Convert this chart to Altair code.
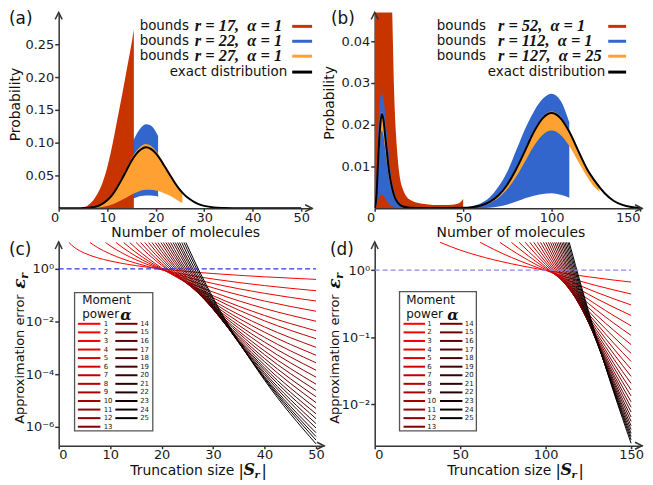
import altair as alt
import pandas as pd

# ---------------- panel (a) data ----------------
A_BLACK_X = [0, 2, 4, 5, 6, 7, 8, 9, 10, 11, 12, 13, 14, 15, 16, 17, 18, 19, 20, 21, 22, 23, 24,
             25, 26, 27, 28, 29, 30, 32, 34, 36, 38, 40, 45, 50]
A_BLACK_P = [0, 0, 0, 0.0002, 0.0005, 0.0014, 0.0031, 0.0065, 0.012, 0.020, 0.031, 0.044, 0.058,
             0.072, 0.083, 0.090, 0.093, 0.0905, 0.084, 0.074, 0.062, 0.050, 0.038, 0.028, 0.020,
             0.014, 0.0092, 0.0058, 0.0036, 0.0012, 0.0004, 0.0001, 0.00002, 0, 0, 0]
A_RED_X = [4, 5, 6, 7, 8, 9, 10, 11, 12, 13, 14, 15, 15.5]
A_RED_HI = [0, 0.001, 0.004, 0.011, 0.022, 0.038, 0.062, 0.094, 0.132, 0.170, 0.210, 0.250, 0.272]
A_BLUE_X = [5, 6, 7, 8, 9, 10, 11, 12, 13, 14, 15, 16, 17, 18, 19, 20, 20.5]
A_BLUE_HI = [0.0003, 0.001, 0.0025, 0.0055, 0.011, 0.019, 0.031, 0.045, 0.061, 0.078, 0.096,
             0.112, 0.123, 0.128, 0.126, 0.117, 0.110]
A_BLUE_LO = [0, 0, 0.0002, 0.0006, 0.0013, 0.0025, 0.004, 0.006, 0.0085, 0.011, 0.014, 0.0165,
             0.0185, 0.0195, 0.0195, 0.0185, 0.0175]
A_ORANGE_X = [5, 6, 7, 8, 9, 10, 11, 12, 13, 14, 15, 16, 17, 18, 19, 20, 21, 22, 23, 24, 25, 25.5]
A_ORANGE_HI = [0.0002, 0.0006, 0.0015, 0.0034, 0.007, 0.0128, 0.0213, 0.0327, 0.0463, 0.0611,
               0.0753, 0.0871, 0.0948, 0.0978, 0.0951, 0.088, 0.0775, 0.065, 0.0523, 0.0402,
               0.0297, 0.025]
A_ORANGE_LO = [0, 0.0001, 0.0003, 0.0008, 0.0018, 0.0034, 0.0057, 0.0088, 0.0125, 0.0165, 0.0205,
               0.0238, 0.027, 0.028, 0.028, 0.027, 0.025, 0.022, 0.019, 0.0145, 0.0098, 0.0078]

# ---------------- panel (b) data ----------------
B_BLACK_X = [0, 1, 2, 3, 4, 5, 6, 7, 8, 9, 10, 11, 12, 14, 16, 20, 25, 30, 40, 50, 55, 60, 65,
             70, 75, 80, 85, 90, 95, 100, 105, 110, 115, 120, 125, 130, 135, 140, 145, 150]
B_BLACK_P = [0, 0.003, 0.012, 0.019, 0.0226, 0.021, 0.017, 0.013, 0.0092, 0.0065, 0.0045, 0.003,
             0.002, 0.0009, 0.0004, 0.0001, 0.00005, 0.00003, 0.00005, 0.0001, 0.00025, 0.00065,
             0.0015, 0.0031, 0.0057, 0.0094, 0.0138, 0.0183, 0.0216, 0.0228, 0.0216, 0.0183,
             0.0138, 0.0094, 0.0062, 0.0036, 0.0018, 0.0008, 0.0003, 0.0001]
B_RED_X = [0, 5, 9, 9.9, 10.9, 12, 13, 14.5, 16, 18, 21, 24, 28, 33, 38, 42, 45, 47.5, 49, 50]
B_RED_HI = [0.09, 0.08, 0.06, 0.047, 0.029, 0.018, 0.012, 0.0067, 0.0045, 0.0028, 0.0018, 0.0013,
            0.001, 0.0008, 0.0008, 0.0008, 0.0009, 0.0012, 0.0017, 0.0022]
B_BLUE_X = [0, 1, 2, 3, 4, 5, 6, 7, 8, 9, 10, 12, 14, 17, 20, 25, 30, 40, 50, 55, 60, 65, 70, 75,
            80, 85, 90, 95, 100, 105, 110]
B_BLUE_HI = [0, 0.006, 0.018, 0.026, 0.0274, 0.026, 0.0225, 0.0175, 0.013, 0.009, 0.006, 0.0028,
             0.0013, 0.0005, 0.0002, 0.0001, 0.0001, 0.0001, 0.0002, 0.0005, 0.0012, 0.0026,
             0.0052, 0.0088, 0.0139, 0.019, 0.0232, 0.0262, 0.0274, 0.0258, 0.0206]
B_BLUE_LO = [0, 0.0008, 0.0022, 0.003, 0.0033, 0.003, 0.0024, 0.0017, 0.0011, 0.0007, 0.0004,
             0.0001, 0, 0, 0, 0, 0, 0, 0, 0, 0, 0.0001, 0.0004, 0.0009, 0.0016, 0.0024, 0.003,
             0.0034, 0.0036, 0.0032, 0.0025]
B_ORANGE_X = [0, 1, 2, 3, 4, 5, 6, 7, 8, 9, 10, 12, 14, 16, 20, 30, 40, 50, 60, 65, 70, 75, 80,
              85, 90, 95, 100, 105, 110, 115, 120, 125, 127]
B_ORANGE_HI = [0, 0.0032, 0.0125, 0.0195, 0.023, 0.0215, 0.0175, 0.0134, 0.0095, 0.0067, 0.0047,
               0.0021, 0.001, 0.0004, 0.0001, 0.00004, 0.00005, 0.0001, 0.0007, 0.0016, 0.0033,
               0.0059, 0.0097, 0.0142, 0.0187, 0.022, 0.0232, 0.022, 0.0187, 0.0142, 0.0098,
               0.0065, 0.0055]
B_ORANGE_LO = [0, 0.0022, 0.0095, 0.0155, 0.0186, 0.0172, 0.0138, 0.0104, 0.0074, 0.0052, 0.0036,
               0.0016, 0.0007, 0.0003, 0.0001, 0.00002, 0.00003, 0.0001, 0.0005, 0.0012, 0.0025,
               0.0046, 0.0076, 0.0112, 0.0149, 0.0176, 0.0186, 0.0176, 0.0149, 0.0112, 0.0076,
               0.0047, 0.0040]

# ---------------- panel (c) data: log10 error per moment power ----------------
C_TOP = 1.0
C_START = [1.99, 6.08, 9.09, 11.13, 12.62, 13.81, 15.04, 15.91, 16.73, 17.46, 18.12, 18.74, 19.28,
           19.85, 20.34, 20.84, 21.29, 21.75, 22.23, 22.65, 23.09, 23.47, 23.91, 24.34, 24.72]
C_GRID = [3, 5, 7.5, 10, 12.5, 15, 17.5, 20, 22.5, 25, 27.5, 30, 40, 50]
C_LOG = [
    [0.822, 0.600, 0.424, 0.299, 0.202, 0.123, 0.056, -0.002, -0.053, -0.099, -0.140, -0.178, -0.303, -0.400],
    [0.818, 0.568, 0.374, 0.216, 0.082, -0.034, -0.136, -0.228, -0.311, -0.386, -0.636, -0.830],
    [0.876, 0.585, 0.348, 0.147, -0.027, -0.181, -0.318, -0.442, -0.555, -0.930, -1.221],
    [0.798, 0.482, 0.214, -0.018, -0.223, -0.406, -0.571, -0.722, -1.222, -1.610],
    [0.625, 0.290, 0.000, -0.256, -0.485, -0.692, -0.881, -1.506, -1.990],
    [0.785, 0.384, 0.036, -0.271, -0.545, -0.794, -1.021, -1.771, -2.352],
    [0.539, 0.133, -0.225, -0.545, -0.835, -1.100, -1.975, -2.653],
    [0.668, 0.204, -0.206, -0.571, -0.902, -1.205, -2.205, -2.980],
    [0.824, 0.302, -0.159, -0.571, -0.943, -1.283, -2.408, -3.281],
    [0.410, -0.102, -0.559, -0.973, -1.351, -2.601, -3.570],
    [0.528, -0.035, -0.538, -0.993, -1.409, -2.784, -3.850],
    [0.660, 0.046, -0.503, -1.000, -1.453, -2.953, -4.116],
    [0.793, 0.127, -0.467, -1.005, -1.496, -3.121, -4.381],
    [0.235, -0.405, -0.984, -1.513, -3.263, -4.620],
    [0.342, -0.344, -0.965, -1.532, -3.407, -4.860],
    [0.469, -0.262, -0.925, -1.530, -3.530, -5.080],
    [0.592, -0.185, -0.889, -1.532, -3.657, -5.304],
    [0.734, -0.088, -0.833, -1.514, -3.764, -5.508],
    [0.030, -0.756, -1.474, -3.849, -5.691],
    [0.142, -0.686, -1.442, -3.942, -5.880],
    [0.275, -0.594, -1.388, -4.013, -6.048],
    [0.398, -0.513, -1.344, -4.094, -6.226],
    [0.554, -0.398, -1.267, -4.142, -6.371],
    [0.722, -0.271, -1.178, -4.178, -6.504],
    [-0.158, -1.103, -4.228, -6.650],
]

# ---------------- panel (d) data ----------------
D_TOP = 0.415
D_START = [38.3, 61.7, 73.2, 80.0, 84.5, 88.1, 90.8, 93.1, 95.2, 97.0, 98.7, 100.2, 101.6, 102.9,
           104.1, 105.3, 106.4, 107.5, 108.5, 109.5, 110.4, 111.3, 112.2, 113.1, 113.8]
D_GRID = [50, 60, 70, 80, 90, 95, 100, 105, 110, 115, 120, 125, 130, 140, 150]
D_LOG = [
    [0.299, 0.220, 0.153, 0.095, 0.044, 0.020, -0.002, -0.023, -0.043, -0.063, -0.081, -0.099, -0.116, -0.148, -0.178],
    [0.306, 0.190, 0.088, 0.041, -0.004, -0.046, -0.087, -0.125, -0.162, -0.198, -0.232, -0.296, -0.356],
    [0.300, 0.146, 0.076, 0.009, -0.055, -0.115, -0.173, -0.229, -0.282, -0.333, -0.429, -0.519],
    [0.211, 0.117, 0.028, -0.057, -0.138, -0.215, -0.289, -0.360, -0.428, -0.556, -0.676],
    [0.279, 0.162, 0.050, -0.056, -0.157, -0.254, -0.346, -0.435, -0.520, -0.681, -0.831],
    [0.359, 0.218, 0.084, -0.043, -0.164, -0.280, -0.391, -0.497, -0.599, -0.793, -0.973],
    [0.278, 0.122, -0.027, -0.168, -0.303, -0.433, -0.557, -0.676, -0.901, -1.111],
    [0.346, 0.168, -0.002, -0.163, -0.318, -0.466, -0.607, -0.743, -1.001, -1.241],
    [0.222, 0.032, -0.150, -0.324, -0.491, -0.650, -0.803, -1.093, -1.363],
    [0.284, 0.072, -0.130, -0.323, -0.508, -0.685, -0.855, -1.177, -1.477],
    [0.352, 0.119, -0.103, -0.316, -0.519, -0.714, -0.901, -1.255, -1.585],
    [0.169, -0.073, -0.305, -0.527, -0.739, -0.943, -1.330, -1.690],
    [0.226, -0.036, -0.287, -0.528, -0.758, -0.979, -1.398, -1.788],
    [0.291, 0.008, -0.262, -0.521, -0.769, -1.007, -1.457, -1.877],
    [0.056, -0.234, -0.512, -0.777, -1.032, -1.515, -1.965],
    [0.110, -0.198, -0.494, -0.778, -1.050, -1.565, -2.045],
    [0.172, -0.156, -0.471, -0.772, -1.061, -1.608, -2.118],
    [0.232, -0.115, -0.448, -0.767, -1.073, -1.652, -2.192],
    [0.302, -0.065, -0.416, -0.752, -1.075, -1.687, -2.257],
    [-0.014, -0.384, -0.738, -1.078, -1.722, -2.322],
    [0.044, -0.344, -0.716, -1.073, -1.749, -2.379],
    [0.103, -0.304, -0.693, -1.067, -1.775, -2.435],
    [0.170, -0.255, -0.662, -1.053, -1.794, -2.484],
    [0.238, -0.206, -0.631, -1.039, -1.812, -2.532],
    [0.303, -0.160, -0.603, -1.028, -1.833, -2.583],
]

A_XTICKS = [0, 10, 20, 30, 40, 50]
A_YTICKS = [0.05, 0.10, 0.15, 0.20, 0.25]
B_XTICKS = [0, 50, 100, 150]
B_YTICKS = [0.01, 0.02, 0.03, 0.04]
C_XTICKS = [0, 10, 20, 30, 40, 50]
C_YTICKS = [1, 1e-2, 1e-4, 1e-6]
D_XTICKS = [0, 50, 100, 150]
D_YTICKS = [1, 1e-1, 1e-2]
ALPHAS = list(range(1, 26))

A_LEGEND = ["r = 17,\u00a0 α = 1", "r = 22,\u00a0 α = 1", "r = 27,\u00a0 α = 1"]
B_LEGEND = ["r = 52,\u00a0 α = 1", "r = 112,\u00a0 α = 1", "r = 127,\u00a0 α = 25"]

# ---------------- styles ----------------
FONT = "DejaVu Sans"
MATH = "DejaVu Serif"
MATH2 = "Liberation Serif"
RED = "#c83400"
BLUE = "#3366cc"
ORANGE = "#ffa033"
AXC = "#333333"
ALPHA_COLORS = ["rgb(%d,0,0)" % round(255 * (1 - (a - 1) / 24)) for a in ALPHAS]

dummy = pd.DataFrame({"k": [0]})


def txt(text, x, y, size=13, align="left", baseline="middle", font=FONT, style=None,
        weight=None, angle=None, color="#111111"):
    kw = dict(text=text, fontSize=size, align=align, baseline=baseline, font=font, color=color)
    if style:
        kw["fontStyle"] = style
    if weight:
        kw["fontWeight"] = weight
    if angle is not None:
        kw["angle"] = angle
    return alt.Chart(dummy).mark_text(**kw).encode(x=alt.value(x), y=alt.value(y))


def hline(x1, x2, y, color, width=2.0, dash=None):
    kw = dict(color=color, strokeWidth=width)
    if dash:
        kw["strokeDash"] = dash
    return alt.Chart(dummy).mark_rule(**kw).encode(x=alt.value(x1), x2=alt.value(x2), y=alt.value(y))


def arrow(x, y, shape):
    return alt.Chart(dummy).mark_point(shape=shape, size=49, filled=False, stroke=AXC,
                                       strokeWidth=1.5, opacity=1).encode(
        x=alt.value(x), y=alt.value(y))


UP = "M -1 2 L 0 0 L 1 2"
RIGHT = "M -2 -1 L 0 0 L -2 1"


def make_x(domain, ticks, right_expr=None):
    ax = dict(values=ticks, title=None, format="d", tickSize=3, labelPadding=0)
    if right_expr:
        ax["labelAlign"] = {"condition": {"test": right_expr, "value": "right"}, "value": "center"}
    return alt.X("x:Q", scale=alt.Scale(domain=domain, nice=False, zero=False), axis=alt.Axis(**ax))


def make_y(field, domain, ticks, fmt=None, log=False, expr=None):
    ax = dict(values=ticks, title=None, tickSize=4, labelPadding=1)
    if fmt:
        ax["format"] = fmt
    if expr:
        ax["labelExpr"] = expr
    if log:
        sc = alt.Scale(type="log", domain=domain, nice=False)
    else:
        sc = alt.Scale(domain=domain, nice=False, zero=False)
    return alt.Y(field, scale=sc, axis=alt.Axis(**ax))


def band(xs, hi, lo, color, X, Yf):
    df = pd.DataFrame({"x": xs, "hi": hi, "lo": lo if lo is not None else [0.0] * len(xs)})
    return alt.Chart(df).mark_area(color=color, opacity=1, interpolate="monotone", clip=True).encode(
        x=X, y=Yf("hi:Q"), y2="lo:Q")


def prob_panel(label, bx, bhi, blo, rx, rhi, ox, ohi, olo, kx, kp, xdom, xticks, ydom, yticks,
               W, H, right_expr, legend, leg_bounds_x, leg_math_x, leg_exact_x, leg_line,
               lab_x, ytitle_x, ytitle_y, xtitle_x, order_red_first):
    X = make_x(xdom, xticks, right_expr)

    def Yf(f):
        return make_y(f, ydom, yticks, ".2f")

    red = band(rx, rhi, None, RED, X, Yf)
    blue = band(bx, bhi, blo, BLUE, X, Yf)
    orange = band(ox, ohi, olo, ORANGE, X, Yf)
    black = alt.Chart(pd.DataFrame({"x": kx, "p": kp})).mark_line(
        color="black", strokeWidth=2, interpolate="monotone", clip=True).encode(x=X, y=Yf("p:Q"))
    layers = [red, blue] if order_red_first else [blue, red]
    layers += [orange, black]
    rows = [14, 29, 44, 60]
    cols = [RED, BLUE, ORANGE]
    for i, lab in enumerate(legend):
        layers.append(txt("bounds", leg_bounds_x, rows[i], size=13.5, align="right"))
        layers.append(txt(lab, leg_math_x, rows[i], size=16.5, font=MATH2, style="italic",
                          weight="bold", align="left"))
        layers.append(hline(leg_line[0], leg_line[1], rows[i], cols[i], 3))
    layers.append(txt("exact distribution", leg_exact_x, rows[3], size=13.5, align="right"))
    layers.append(hline(leg_line[0], leg_line[1], rows[3], "black", 3))
    layers.append(txt(label, lab_x, -1, size=17, baseline="top"))
    layers.append(txt("Probability", ytitle_x, ytitle_y, size=14, align="center", angle=270))
    layers.append(txt("Number of molecules", xtitle_x, 226, size=14, align="center",
                      baseline="alphabetic"))
    layers.append(arrow(0, 0, UP))
    layers.append(arrow(W, H, RIGHT))
    return alt.layer(*layers).properties(width=W, height=H)


def err_panel(label, starts, top, grid, logs, xdom, xticks, ydom, yticks, yexpr, W, H,
              dash_color, dash_x2, box, moment_x, alpha_x, col1, col2, lab_x, ylab_x, xt_x):
    rows = []
    for i, vals in enumerate(logs):
        a = i + 1
        rows.append({"a": a, "x": starts[i], "lv": top})
        for xv, lv in zip(grid[-len(vals):], vals):
            rows.append({"a": a, "x": xv, "lv": lv})
    df = pd.DataFrame(rows)
    df["err"] = 10 ** df["lv"]
    X = make_x(xdom, xticks)

    def Yf(f):
        return make_y(f, ydom, yticks, log=True, expr=yexpr)

    lines = alt.Chart(df).mark_line(strokeWidth=1, interpolate="monotone", clip=True).encode(
        x=X, y=Yf("err:Q"),
        color=alt.Color("a:O", scale=alt.Scale(domain=ALPHAS, range=ALPHA_COLORS), legend=None))
    dashed = alt.Chart(pd.DataFrame({"x": [0, dash_x2], "err": [1.0, 1.0]})).mark_line(
        color=dash_color, strokeDash=[5, 3], strokeWidth=1.3).encode(x=X, y=Yf("err:Q"))
    layers = [lines, dashed]
    layers.append(alt.Chart(dummy).mark_rect(fill="white", stroke="#555555", strokeWidth=1.3).encode(
        x=alt.value(box[0]), x2=alt.value(box[1]), y=alt.value(box[2]), y2=alt.value(box[3])))
    layers.append(txt("Moment", moment_x, 62, size=12, baseline="alphabetic"))
    layers.append(txt("power", moment_x, 76, size=12, baseline="alphabetic"))
    layers.append(txt("α", alpha_x, 78, size=15, font=MATH, style="italic", weight="bold",
                      baseline="alphabetic"))
    y0, dy = 82.3, 8.63
    for a in ALPHAS:
        if a <= 13:
            cx1, cx2, lx = col1
            yy = y0 + (a - 1) * dy
        else:
            cx1, cx2, lx = col2
            yy = y0 + (a - 14) * dy
        layers.append(hline(cx1, cx2, yy, ALPHA_COLORS[a - 1], 2))
        layers.append(txt(str(a), lx, yy, size=7, color="#222222"))
    layers.append(txt(label, lab_x, 0, size=17, baseline="top"))
    layers.append(txt("Approximation error", ylab_x, 183, size=13, align="left", angle=270))
    layers.append(txt("ε", ylab_x - 0.5, 47, size=17, font=MATH, style="italic", weight="bold",
                      align="left", angle=270))
    layers.append(txt("r", ylab_x + 4.5, 37, size=11, font=MATH, style="italic", weight="bold",
                      align="left", angle=270))
    yb = 234
    layers.append(txt("Truncation size", xt_x, yb, size=14, baseline="alphabetic"))
    layers.append(txt("|", xt_x + 109, yb + 1, size=16, baseline="alphabetic"))
    layers.append(txt("S", xt_x + 114, yb, size=16, font=MATH, style="italic", weight="bold",
                      baseline="alphabetic"))
    layers.append(txt("r", xt_x + 125, yb + 3, size=10, font=MATH, style="italic", weight="bold",
                      baseline="alphabetic"))
    layers.append(txt("|", xt_x + 132, yb + 1, size=16, baseline="alphabetic"))
    layers.append(arrow(0, 0, UP))
    layers.append(arrow(W, H, RIGHT))
    return alt.layer(*layers).properties(width=W, height=H)


pa = prob_panel("(a)", A_BLUE_X, A_BLUE_HI, A_BLUE_LO, A_RED_X, A_RED_HI, A_ORANGE_X, A_ORANGE_HI,
                A_ORANGE_LO, A_BLACK_X, A_BLACK_P, [0, 52.25], A_XTICKS, [0, 0.2985], A_YTICKS,
                255, 197, "datum.value === 0", A_LEGEND, 131, 137, 230, (235, 255),
                -50, -43, 92.7, 127.8, False)
pb = prob_panel("(b)", B_BLUE_X, B_BLUE_HI, B_BLUE_LO, B_RED_X, B_RED_HI, B_ORANGE_X, B_ORANGE_HI,
                B_ORANGE_LO, B_BLACK_X, B_BLACK_P, [0, 151.1], B_XTICKS, [0, 0.0469], B_YTICKS,
                269, 197, "datum.value === 0 || datum.value === 150", B_LEGEND, 112, 124, 232,
                (235, 253), -44, -45, 91, 137, True)

C_YEXPR = ("datum.value > 0.5 ? '10⁰' : datum.value > 0.005 ? '10⁻²' : "
           "datum.value > 0.00005 ? '10⁻⁴' : '10⁻⁶'")
D_YEXPR = "datum.value > 0.5 ? '10⁰' : datum.value > 0.05 ? '10⁻¹' : '10⁻²'"

pc = err_panel("(c)", C_START, C_TOP, C_GRID, C_LOG, [0, 51.55], C_XTICKS,
               [10 ** -6.72, 10 ** 1.02], C_YTICKS, C_YEXPR, 267, 205, "#3333dd", 50,
               (16, 94.7, 51, 190), 23.7, 62, (19.3, 42, 45.3), (57, 79.3, 82), -50, -38.5, 72)
pd_ = err_panel("(d)", D_START, D_TOP, D_GRID, D_LOG, [0, 156.4], D_XTICKS,
                [10 ** -2.62, 10 ** 0.42], D_YTICKS, D_YEXPR, 269, 205, "#8888ee", 150,
                (25, 102.3, 50, 190), 31.7, 73, (29, 50.7, 53), (65.7, 88.3, 90.7), -45, -39.5, 73)

chart = alt.concat(pa, pb, pc, pd_, columns=2, spacing={"row": 34, "column": 51},
                   bounds="flush", align="each").properties(
    padding=0, background="white"
).configure_view(stroke=None).configure_axis(
    domainColor=AXC, domainWidth=1.5, tickColor=AXC, tickWidth=1.5, labelFont=FONT,
    labelFontSize=13, labelColor="#1a1a1a", grid=False
)

chart.save("out.html", embed_options={"renderer": "svg", "actions": False})
